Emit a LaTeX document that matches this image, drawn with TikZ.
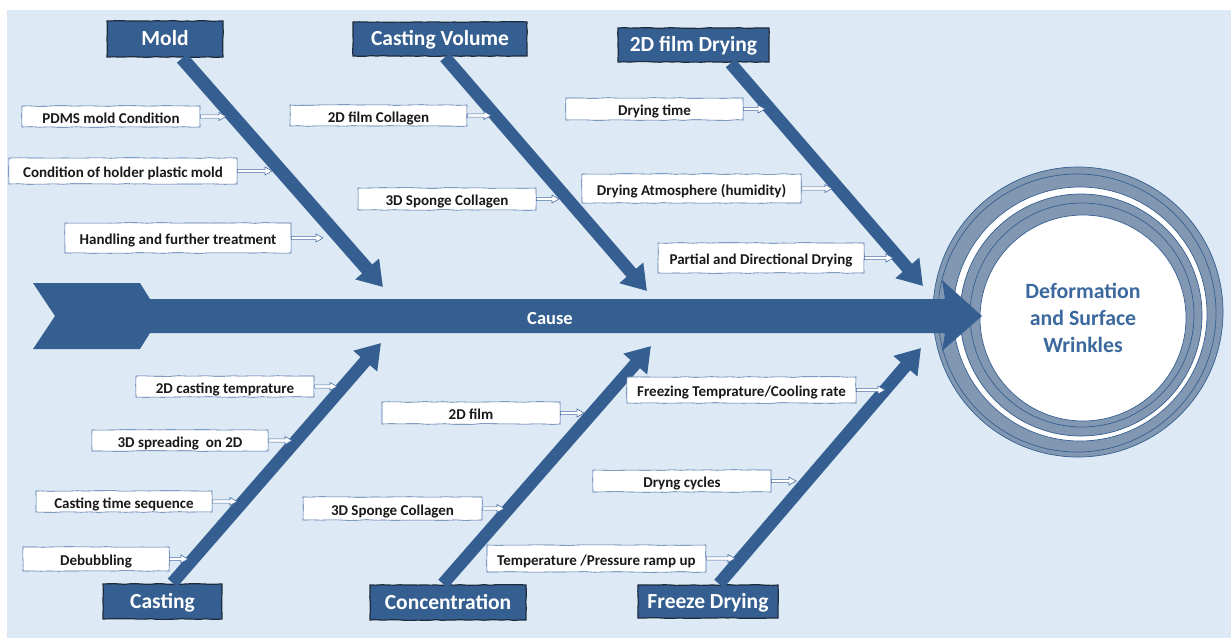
\documentclass[tikz,border=0pt]{standalone}
\usepackage{fontspec}
\setmainfont{Carlito}
\usetikzlibrary{arrows.meta,decorations.pathmorphing,calc}
\definecolor{bg}{HTML}{DDEAF6}
\definecolor{mainblue}{HTML}{365F91}
\definecolor{ringc}{HTML}{8297B1}
\definecolor{headtxt}{HTML}{3C699D}
\definecolor{edgeblue}{HTML}{4A6FA5}
\definecolor{hdredge}{HTML}{1E2B3C}
\begin{document}
\begin{tikzpicture}[x=1pt,y=-1pt,
  hdr/.style={fill=mainblue, draw=hdredge, line width=1.2pt, text=white,
    font=\bfseries\fontsize{21.5}{23}\selectfont, inner sep=0pt,
    text height=14.5pt, text depth=0.7pt,
    decorate, decoration={random steps, segment length=6pt, amplitude=0.4pt}},
  lbl/.style={fill=white, draw=edgeblue, line width=0.6pt, text=black!90,
    font=\bfseries\fontsize{15}{17}\selectfont, inner sep=0pt,
    text height=13.5pt, text depth=0.5pt,
    decorate, decoration={random steps, segment length=9pt, amplitude=0.35pt}},
  bone/.style={draw=mainblue, line width=12.5pt, -{Triangle[length=24pt,width=30pt]}},
  harrow/.style={fill=white, draw=edgeblue, line width=0.6pt, to path={
    let \p1=(\tikztostart), \p2=(\tikztotarget) in
    (\x1,\y1+1.6pt) -- (\x2-7pt,\y1+1.6pt) -- (\x2-7pt,\y1+4pt) -- (\x2,\y1)
    -- (\x2-7pt,\y1-4pt) -- (\x2-7pt,\y1-1.6pt) -- (\x1,\y1-1.6pt) -- cycle}},
  ring/.style={draw=mainblue, line width=0.7pt}
]
\useasboundingbox (0,0) rectangle (1231,638);
\fill[bg] (7,10) rectangle (1231,638);

% ---------- head (effect) ----------
\fill[ringc] (1078,312) circle (145);
\fill[white] (1080,314) circle (127);
\fill[ringc] (1081,315) circle (121);
\draw[ring] (1078,312) circle (145);
\draw[ring] (1077,313) circle (139);
\draw[ring] (1080,314) circle (127);
\draw[ring] (1081,315) circle (121);
\draw[ring] (1082,315) circle (112);
\node[circle, fill=white, draw=mainblue, line width=0.7pt, minimum size=206pt, inner sep=0pt,
  align=center, text=headtxt, font=\bfseries\fontsize{21.8}{27}\selectfont]
  (head) at (1083,318) {Deformation\\and Surface\\Wrinkles};

% ---------- spine ----------
\coordinate (tail) at (33,283);
\fill[mainblue] (tail) -- (140,283) -- (150,299) -- (945,299) -- (942,280)
  -- (982,316) -- (942,351) -- (945,333) -- (150,333) -- (140,349)
  -- (33,349) -- (55,316) -- cycle;
\node[text=white, font=\bfseries\fontsize{18.5}{20}\selectfont] (cause) at (550,318) {Cause};

% ---------- category boxes ----------
\node[hdr, minimum width=116pt, minimum height=36pt] (mold) at (165,39) {Mold};
\node[hdr, minimum width=174pt, minimum height=34pt] (cvol) at (440,39) {Casting Volume};
\node[hdr, minimum width=151pt, minimum height=34pt] (fdry) at (693.5,45) {2D film Drying};
\node[hdr, minimum width=119pt, minimum height=35pt] (cast) at (162.5,601.5) {Casting};
\node[hdr, minimum width=156pt, minimum height=35pt] (conc) at (448,602.5) {Concentration};
\node[hdr, minimum width=140pt, minimum height=33pt] (frz) at (708,601.5) {Freeze Drying};

% ---------- bones ----------
\coordinate (t1) at (383,287);
\coordinate (t2) at (647,291);
\coordinate (t3) at (923,286);
\coordinate (t4) at (381,343);
\coordinate (t5) at (651,346);
\coordinate (t6) at (921,348);
\draw[bone, line width=13.5pt] ([xshift=17pt,yshift=-0.6pt]mold.south) -- (t1);
\draw[bone] ([xshift=5pt,yshift=-0.6pt]cvol.south) -- (t2);
\draw[bone] ([xshift=37pt,yshift=-0.6pt]fdry.south) -- (t3);
\draw[bone] ([xshift=10pt,yshift=0.6pt]cast.north) -- (t4);
\draw[bone] ([xshift=-5pt,yshift=0.6pt]conc.north) -- (t5);
\draw[bone] ([xshift=11pt,yshift=0.6pt]frz.north) -- (t6);

% ---------- cause labels ----------
\node[lbl, minimum width=178pt, minimum height=21pt] (l1) at (111,116.5) {PDMS mold Condition};
\node[lbl, minimum width=228pt, minimum height=26pt] (l2) at (123,171) {Condition of holder plastic mold};
\node[lbl, minimum width=226pt, minimum height=30pt] (l3) at (178,238) {Handling and further treatment};
\node[lbl, minimum width=177pt, minimum height=21pt] (l4) at (378.5,115.5) {2D film Collagen};
\node[lbl, minimum width=178pt, minimum height=22pt] (l5) at (447,199) {3D Sponge Collagen};
\node[lbl, minimum width=177pt, minimum height=22pt] (l6) at (654.5,109) {Drying time};
\node[lbl, minimum width=219pt, minimum height=29pt] (l7) at (691.5,188.5) {Drying Atmosphere (humidity)};
\node[lbl, minimum width=206pt, minimum height=30pt] (l8) at (761,258) {Partial and Directional Drying};
\node[lbl, minimum width=178pt, minimum height=21pt] (l9) at (225,386.5) {2D casting temprature};
\node[lbl, minimum width=176pt, minimum height=21pt] (l10) at (180,440.5) {3D spreading\ \ on 2D};
\node[lbl, minimum width=176pt, minimum height=21pt] (l11) at (124,501.5) {Casting time sequence};
\node[lbl, minimum width=146pt, minimum height=24pt] (l12) at (96,559) {Debubbling};
\node[lbl, minimum width=178pt, minimum height=22pt] (l13) at (471,413) {2D film};
\node[lbl, minimum width=179pt, minimum height=23pt] (l14) at (392.5,508.5) {3D Sponge Collagen};
\node[lbl, minimum width=229pt, minimum height=26pt] (l15) at (741.5,390) {Freezing Temprature/Cooling rate};
\node[lbl, minimum width=178pt, minimum height=22pt] (l16) at (682,481) {Dryng cycles};
\node[lbl, minimum width=219pt, minimum height=27pt] (l17) at (596.5,558.5) {Temperature /Pressure ramp up};

% ---------- small arrows ----------
\coordinate (e1) at (226,116.5);
\coordinate (e2) at (272,171);
\coordinate (e3) at (323,238);
\coordinate (e4) at (491,115.5);
\coordinate (e5) at (559,199);
\coordinate (e6) at (765,109);
\coordinate (e7) at (832,188.5);
\coordinate (e8) at (893,258);
\coordinate (e9) at (337,386.5);
\coordinate (e10) at (292,440.5);
\coordinate (e11) at (237,501.5);
\coordinate (e12) at (188,559);
\coordinate (e13) at (584,413);
\coordinate (e14) at (504,508.5);
\coordinate (e15) at (885,390);
\coordinate (e16) at (796,481);
\coordinate (e17) at (735,558.5);
\foreach \i in {1,...,17} {\draw[harrow] (l\i.east) to (e\i);}
\end{tikzpicture}
\end{document}
